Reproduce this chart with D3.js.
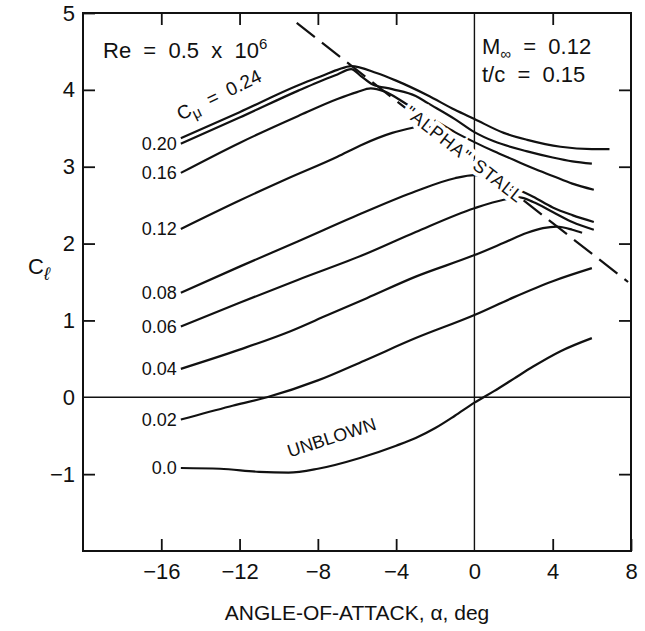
<!DOCTYPE html>
<html>
<head>
<meta charset="utf-8">
<script src="https://cdn.jsdelivr.net/npm/d3@7"></script>
<style>
  body { margin: 0; background: #fff; }
  svg { font-family: "Liberation Sans", Arial, Helvetica, sans-serif; }
  svg text { white-space: pre; }
  .axis text { font-size: 22px; fill: #111; }
  .axis line { stroke: #111; stroke-width: 1.8; }
  .curve { fill: none; stroke: #111; stroke-width: 2.2; }
</style>
</head>
<body>
<svg id="chart" width="645" height="631"></svg>
<script>
// axis ticks
const alphaTicks = [-16, -12, -8, -4, 0, 4, 8];
const clTicks = [-1, 0, 1, 2, 3, 4, 5];

// C_mu labels
const cmuLabels = ['0.24', '0.20', '0.16', '0.12', '0.08', '0.06', '0.04', '0.02', '0.0'];

// series: [alpha (deg), C_l]
const cmu024 = [[-15, 3.37], [-12, 3.71], [-9, 4.06], [-8, 4.16], [-7, 4.26], [-6.3, 4.31], [-5, 4.22], [-4, 4.12],
  [-2.4, 3.93], [-1, 3.74], [0, 3.62], [1.5, 3.44], [2.7, 3.35], [4.4, 3.26], [6, 3.23], [6.9, 3.23]];
const cmu020 = [[-15, 3.30], [-12, 3.64], [-9, 3.99], [-8, 4.10], [-7, 4.20], [-6.3, 4.27], [-5.8, 4.18], [-5.2, 4.07],
  [-4.2, 4.01], [-3, 3.92], [-2.4, 3.83], [-1, 3.62], [0, 3.45], [1, 3.33], [2.7, 3.2], [4, 3.12], [5, 3.07], [6, 3.04]];
const cmu016 = [[-15, 2.92], [-12, 3.31], [-9, 3.66], [-7, 3.88], [-6, 3.97], [-5.3, 4.02], [-4.6, 3.98], [-3.5, 3.82],
  [-2, 3.6], [-1, 3.45], [0, 3.32], [1, 3.2], [2, 3.09], [3, 2.98], [4, 2.88], [5, 2.78], [6.1, 2.70]];
const cmu012 = [[-15, 2.19], [-12, 2.56], [-9.6, 2.84], [-7, 3.13], [-5.8, 3.28], [-4.2, 3.44], [-3.1, 3.51]];
const cmu008 = [[-15, 1.36], [-12, 1.70], [-9, 2.03], [-5.6, 2.41], [-3, 2.68], [-1, 2.85], [0, 2.89], [1, 2.84],
  [2, 2.73], [3, 2.61], [4, 2.47], [5, 2.37], [6.1, 2.28]];
const cmu006 = [[-15, 0.92], [-12, 1.23], [-9, 1.53], [-5.6, 1.86], [-3, 2.15], [0, 2.46], [1.5, 2.57], [2.3, 2.6],
  [3, 2.54], [4, 2.41], [5, 2.28], [6.1, 2.18]];
const cmu004 = [[-15, 0.37], [-12, 0.62], [-9.4, 0.86], [-7.5, 1.07], [-5.5, 1.29], [-3, 1.57], [0, 1.85], [1.5, 2.01],
  [2.7, 2.14], [3.5, 2.2], [4.2, 2.22], [5, 2.18], [5.5, 2.14]];
const cmu002 = [[-15, -0.29], [-12.5, -0.12], [-10.6, 0], [-8, 0.22], [-5.6, 0.48], [-3, 0.77], [0, 1.07], [2, 1.3],
  [4, 1.51], [6, 1.68]];
const unblown = [[-15, -0.92], [-13, -0.93], [-11, -0.97], [-9.5, -0.98], [-8, -0.93], [-5.85, -0.79], [-4, -0.63],
  [-3, -0.53], [-2, -0.40], [-1, -0.24], [0, -0.07], [1, 0.08], [2, 0.24], [3, 0.4], [4.4, 0.6], [6, 0.77]];

// "alpha" stall boundary
const stallLine = [[-9.08, 4.87], [7.85, 1.5]];

const series = [cmu024, cmu020, cmu016, cmu012, cmu008, cmu006, cmu004, cmu002, unblown];

const svg = d3.select('#chart');
const margin = { left: 83, right: 14, top: 13, bottom: 80 };
const W = +svg.attr('width');
const H = +svg.attr('height');

const x = d3.scaleLinear().domain([-20, 8]).range([margin.left, W - margin.right]);
const y = d3.scaleLinear().domain([-2, 5]).range([H - margin.bottom, margin.top]);

const line = d3.line().x(d => x(d[0])).y(d => y(d[1])).curve(d3.curveMonotoneX);

// zero lines
svg.append('line').attr('x1', x(-20)).attr('x2', x(8)).attr('y1', y(0)).attr('y2', y(0))
  .attr('stroke', '#111').attr('stroke-width', 1.4);
svg.append('line').attr('x1', x(0)).attr('x2', x(0)).attr('y1', y(-2)).attr('y2', y(5))
  .attr('stroke', '#111').attr('stroke-width', 1.4);

// axes, ticks point inward
const tickLen = 12;
const xAxisB = d3.axisBottom(x).tickValues(alphaTicks).tickSize(-tickLen).tickPadding(12)
  .tickFormat(d => d < 0 ? '\u2212' + Math.abs(d) : d);
svg.append('g').attr('class', 'axis').attr('transform', `translate(0,${y(-2)})`).call(xAxisB);

const xAxisT = d3.axisTop(x).tickValues(alphaTicks.filter(d => d !== 0 && d !== 8)).tickSize(-tickLen).tickFormat('');
svg.append('g').attr('class', 'axis').attr('transform', `translate(0,${y(5)})`).call(xAxisT);

const yAxisL = d3.axisLeft(y).tickValues(clTicks).tickSize(-tickLen).tickPadding(8)
  .tickFormat(d => d < 0 ? '\u2212' + Math.abs(d) : d);
svg.append('g').attr('class', 'axis').attr('transform', `translate(${x(-20)},0)`).call(yAxisL);

const yAxisR = d3.axisRight(y).tickValues(clTicks.filter(d => d !== 0 && d !== 5)).tickSize(-tickLen).tickFormat('');
svg.append('g').attr('class', 'axis').attr('transform', `translate(${x(8)},0)`).call(yAxisR);

svg.selectAll('.axis .domain').remove();
svg.selectAll('.axis .tick').filter(d => d === 0).select('line').remove();

// frame
svg.append('rect').attr('x', x(-20)).attr('y', y(5)).attr('width', x(8) - x(-20)).attr('height', y(-2) - y(5))
  .attr('fill', 'none').attr('stroke', '#111').attr('stroke-width', 2);

// curves
svg.append('g').selectAll('path').data(series).join('path')
  .attr('class', 'curve').attr('d', line);

// stall boundary
svg.append('path').datum(stallLine).attr('d', d3.line().x(d => x(d[0])).y(d => y(d[1])))
  .attr('fill', 'none').attr('stroke', '#111').attr('stroke-width', 2.2).attr('stroke-dasharray', '23,9');

// C_mu labels at the start of each curve
svg.append('g').selectAll('text').data(series.slice(1)).join('text')
  .attr('x', d => x(d[0][0]) - 4).attr('y', d => y(d[0][1]))
  .attr('dy', '0.35em').attr('text-anchor', 'end').attr('font-size', 18).attr('fill', '#111')
  .text((d, i) => cmuLabels[i + 1]);

const ang = Math.atan2(y(stallLine[1][1]) - y(stallLine[0][1]), x(stallLine[1][0]) - x(stallLine[0][0])) * 180 / Math.PI;
const onStall = a => {
  const [p0, p1] = stallLine;
  return p0[1] + (p1[1] - p0[1]) * (a - p0[0]) / (p1[0] - p0[0]);
};

// Cmu = 0.24 along the top curve
const lab24 = svg.append('text').attr('font-size', 19).attr('fill', '#111')
  .attr('transform', `translate(${x(-12.9)},${y(3.86)}) rotate(-26)`).attr('text-anchor', 'middle');
lab24.append('tspan').text('C');
lab24.append('tspan').attr('font-size', 15).attr('dy', 5).text('\u03bc');
lab24.append('tspan').attr('dy', -5).text('  =  0.24');

// stall annotation with white halo over curves
[['"ALPHA"', -1.83], ['STALL', 1.23]].forEach(([t, a]) => {
  svg.append('text').attr('font-size', 18).attr('fill', '#111').attr('letter-spacing', 1)
    .attr('text-anchor', 'middle').attr('dy', '0.36em')
    .attr('stroke', '#fff').attr('stroke-width', 8).attr('paint-order', 'stroke')
    .attr('transform', `translate(${x(a)},${y(onStall(a))}) rotate(${ang})`)
    .text(t);
});

// unblown
svg.append('text').attr('font-size', 18).attr('fill', '#111').attr('text-anchor', 'middle')
  .attr('transform', `translate(${x(-7.2)},${y(-0.6)}) rotate(-18)`).text('UNBLOWN');

// conditions
const re = svg.append('text').attr('x', 103).attr('y', 58).attr('font-size', 22).attr('fill', '#111');
re.append('tspan').text('Re  =  0.5  x  10');
re.append('tspan').attr('font-size', 15).attr('dy', -9).text('6');

const mach = svg.append('text').attr('x', 482).attr('y', 54).attr('font-size', 22).attr('fill', '#111');
mach.append('tspan').text('M');
mach.append('tspan').attr('font-size', 15).attr('dy', 5).text('\u221e');
mach.append('tspan').attr('dy', -5).text('  =  0.12');
svg.append('text').attr('x', 482).attr('y', 82).attr('font-size', 22).attr('fill', '#111')
  .text('t/c  =  0.15');

// axis titles
svg.append('text').attr('x', (x(-20) + x(8)) / 2).attr('y', 620).attr('text-anchor', 'middle')
  .attr('font-size', 21).attr('fill', '#111')
  .text('ANGLE-OF-ATTACK, \u03b1, deg');
const yl = svg.append('text').attr('x', 28).attr('y', 274).attr('font-size', 22).attr('fill', '#111');
yl.append('tspan').text('C');
yl.append('tspan').attr('font-size', 18).attr('dy', 6).attr('font-style', 'italic').text('\u2113');
</script>
</body>
</html>
